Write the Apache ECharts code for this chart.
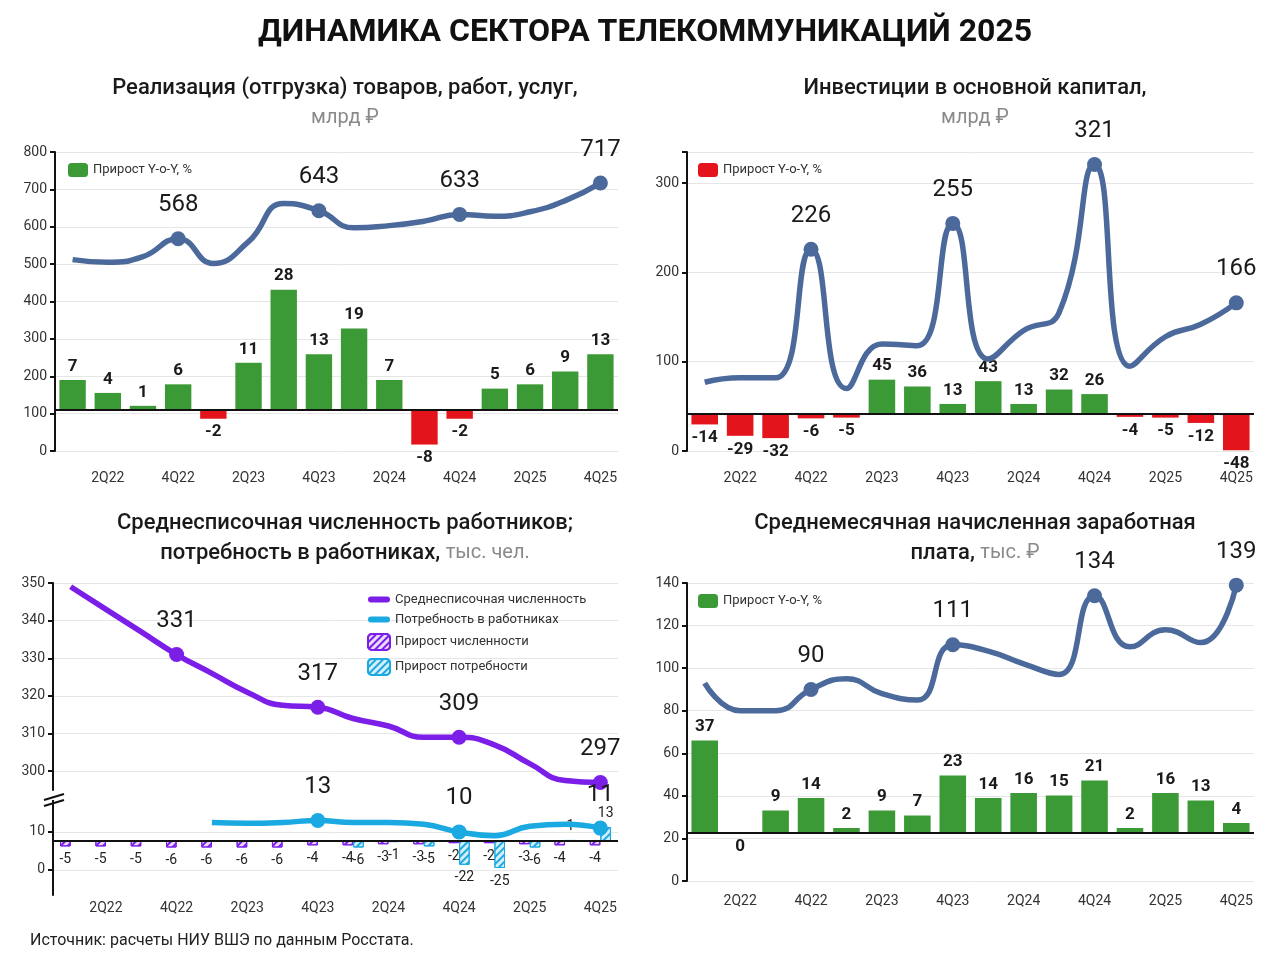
<!DOCTYPE html>
<html lang="ru">
<head>
<meta charset="UTF-8">
<title>Динамика сектора телекоммуникаций 2025</title>
<script src="https://cdn.jsdelivr.net/npm/echarts@6/dist/echarts.min.js"></script>
<style>
  html, body { margin: 0; padding: 0; background: #fff; }
  #chart { width: 1280px; height: 960px; }
</style>
</head>
<body>
<div id="chart"></div>
<script>
// данные
var cats = ['1Q22','2Q22','3Q22','4Q22','1Q23','2Q23','3Q23','4Q23','1Q24','2Q24','3Q24','4Q24','1Q25','2Q25','3Q25','4Q25'];
var marked = [3, 7, 11, 15];

var salesVal = [512, 505, 520, 568, 502, 560, 662, 643, 597, 603, 615, 633, 628, 640, 670, 717];
var salesYoY = [7, 4, 1, 6, -2, 11, 28, 13, 19, 7, -8, -2, 5, 6, 9, 13];

var investVal = [77, 82, 82, 226, 70, 120, 118, 255, 103, 135, 155, 321, 95, 128, 142, 166];
var investYoY = [-14, -29, -32, -6, -5, 45, 36, 13, 43, 13, 32, 26, -4, -5, -12, -48];

var staffVal = [349, 343, 337, 331, 326, 321, 317.5, 317, 314, 312, 309, 309, 307, 302, 297.5, 297];
var needVal = [null, null, null, null, 12.5, 12.3, 12.5, 13, 12.5, 12.5, 12, 10, 9, 11.5, 12, 11];
var staffYoY = [-5, -5, -5, -6, -6, -6, -6, -4, -4, -3, -3, -2, -2, -3, -4, -4];
var needYoY = [null, null, null, null, null, null, null, null, -6, -1, -5, -22, -25, -6, 1, 13];

var wageVal = [93, 80, 80, 90, 95, 88, 85, 111, 108, 102, 97, 134, 110, 118, 112, 139];
var wageYoY = [37, 0, 9, 14, 2, 9, 7, 23, 14, 16, 15, 21, 2, 16, 13, 4];

var GREEN = '#3c9a36', RED = '#e3141b', BLUE = '#4b6a9b', PURPLE = '#7a1ee8', CYAN = '#1ba9e1';
var FONT = 'Roboto';
var LINE_ICON = 'path://M3,0h16a3,3 0 0 1 0,6h-16a3,3 0 0 1 0,-6z';

var chart = echarts.init(document.getElementById('chart'));

function signBars(arr) {
    return arr.map(function (v) {
        return { value: v, itemStyle: { color: v < 0 ? RED : GREEN },
                 label: { position: v <= 0 ? 'bottom' : 'top' } };
    });
}
function smallBars(arr) {
    return arr.map(function (v) {
        return v === null ? null : { value: v, label: { position: v < 0 ? 'bottom' : 'top' } };
    });
}
function lineSeries(data, color, xi, yi, name) {
    return {
        name: name, type: 'line', data: data, xAxisIndex: xi, yAxisIndex: yi, smooth: 0.5,
        lineStyle: { color: color, width: 5.5 }, itemStyle: { color: color },
        symbol: 'circle',
        symbolSize: function (v, p) { return marked.indexOf(p.dataIndex) >= 0 ? 15 : 0; },
        label: {
            show: true, position: 'top', distance: 14, fontSize: 24, color: '#1a1a1a', fontFamily: FONT,
            formatter: function (p) { return marked.indexOf(p.dataIndex) >= 0 ? String(Math.round(p.value)) : ''; }
        },
        z: 5
    };
}
function barSeries(data, name, xi, yi) {
    return {
        name: name, type: 'bar', data: signBars(data), xAxisIndex: xi, yAxisIndex: yi,
        barWidth: '75%', color: name === 'inv' ? RED : GREEN,
        label: { show: true, fontSize: 17, fontWeight: 'bold', color: '#1a1a1a', fontFamily: FONT },
        markLine: { silent: true, symbol: 'none', label: { show: false },
                    lineStyle: { color: '#111', width: 2, type: 'solid' }, data: [{ yAxis: 0 }] },
        z: 3
    };
}
function labelX(grid, margin) {
    return {
        type: 'category', gridIndex: grid, data: cats, position: 'bottom',
        axisLine: { show: false }, axisTick: { show: false },
        axisLabel: { interval: function (i) { return i % 2 === 1; }, fontSize: 14, color: '#333', margin: margin, fontFamily: FONT }
    };
}
function hiddenX(grid) {
    return { type: 'category', gridIndex: grid, data: cats, show: false };
}
var valueY = function (grid, min, max, interval) {
    return {
        type: 'value', gridIndex: grid, min: min, max: max, interval: interval,
        axisLine: { show: true, lineStyle: { color: '#111', width: 2 } },
        axisTick: { show: true, length: 5, lineStyle: { color: '#111', width: 2 } },
        axisLabel: { fontSize: 14, color: '#333', fontFamily: FONT,
                     formatter: function (v) { return v % interval === 0 ? String(v) : ''; } },
        splitLine: { lineStyle: { color: '#e6e6e6' } }
    };
};
var barY = function (grid, min, max) {
    return { type: 'value', gridIndex: grid, min: min, max: max, show: false, splitLine: { show: false } };
};

var titleStyle = {
    rich: {
        t: { fontSize: 22, color: '#1a1a1a', fontFamily: FONT, lineHeight: 30, fontWeight: 500 },
        u: { fontSize: 20, color: '#8a8a8a', fontFamily: FONT, lineHeight: 30, fontWeight: 'normal' }
    }
};
function panelTitle(x, y, text) {
    return { text: text, left: x, top: y, textAlign: 'center', textStyle: titleStyle };
}

var option = {
    backgroundColor: '#fff',
    animation: false,
    title: [
        { text: 'ДИНАМИКА СЕКТОРА ТЕЛЕКОММУНИКАЦИЙ 2025', left: 640, top: 12, textAlign: 'center',
          textStyle: { fontSize: 32, fontWeight: 'bold', color: '#111', fontFamily: FONT } },
        panelTitle(340, 68, '{t|Реализация (отгрузка) товаров, работ, услуг,}\n{u|млрд ₽}'),
        panelTitle(970, 68, '{t|Инвестиции в основной капитал,}\n{u|млрд ₽}'),
        panelTitle(340, 503, '{t|Среднесписочная численность работников;}\n{t|потребность в работниках, }{u|тыс. чел.}'),
        panelTitle(970, 503, '{t|Среднемесячная начисленная заработная}\n{t|плата, }{u|тыс. ₽}'),
        { text: 'Источник: расчеты НИУ ВШЭ по данным Росстата.', left: 25, top: 928,
          textStyle: { fontSize: 16, fontWeight: 'normal', color: '#222', fontFamily: FONT } }
    ],
    legend: [
        { data: [{ name: 'sales' }], left: 63, top: 158, itemWidth: 20, itemHeight: 14,
          formatter: function () { return 'Прирост Y-o-Y, %'; }, textStyle: { fontSize: 13, color: '#333', fontFamily: FONT } },
        { data: [{ name: 'inv' }], left: 693, top: 158, itemWidth: 20, itemHeight: 14,
          formatter: function () { return 'Прирост Y-o-Y, %'; }, textStyle: { fontSize: 13, color: '#333', fontFamily: FONT } },
        { data: [{ name: 'wage' }], left: 693, top: 589, itemWidth: 20, itemHeight: 14,
          formatter: function () { return 'Прирост Y-o-Y, %'; }, textStyle: { fontSize: 13, color: '#333', fontFamily: FONT } },
        { data: [{ name: 'Среднесписочная численность', icon: LINE_ICON },
                 { name: 'Потребность в работниках', icon: LINE_ICON },
                 'Прирост численности', 'Прирост потребности'],
          orient: 'vertical', left: 362, top: 588, itemGap: 7, itemWidth: 22, itemHeight: 16,
          textStyle: { fontSize: 13, color: '#333', fontFamily: FONT } }
    ],
    grid: [
        { left: 55, right: 662, top: 152, bottom: 509 },
        { left: 687, right: 26, top: 152, bottom: 509 },
        { left: 53, right: 662, top: 583, bottom: 170 },
        { left: 53, right: 662, top: 800, bottom: 65 },
        { left: 687, right: 26, top: 583, bottom: 79 }
    ],
    xAxis: [
        labelX(0, 20), hiddenX(1),
        labelX(1, 20), hiddenX(1),
        hiddenX(2),
        labelX(3, 6), hiddenX(3),
        labelX(4, 13), hiddenX(4)
    ],
    yAxis: [
        valueY(0, 0, 800, 100), barY(0, -9.5, 60),
        valueY(1, 0, 335, 100), barY(1, -49, 345),
        {
            type: 'value', gridIndex: 2, min: 295, max: 350,
            axisLine: { show: true, lineStyle: { color: '#111', width: 2 } },
            axisTick: { show: true, length: 5, customValues: [300, 310, 320, 330, 340, 350], lineStyle: { color: '#111', width: 2 } },
            axisLabel: { fontSize: 14, color: '#333', fontFamily: FONT, customValues: [300, 310, 320, 330, 340, 350] },
            splitLine: { lineStyle: { color: '#e6e6e6' } }
        },
        {
            type: 'value', gridIndex: 3, min: -6.6, max: 18.4,
            axisLine: { show: true, lineStyle: { color: '#111', width: 2 } },
            axisTick: { show: true, length: 5, customValues: [0, 10], lineStyle: { color: '#111', width: 2 } },
            axisLabel: { fontSize: 14, color: '#333', fontFamily: FONT, customValues: [0, 10] },
            splitLine: { lineStyle: { color: '#e6e6e6' } }
        },
        barY(3, -50, 38),
        valueY(4, 0, 140, 20), barY(4, -19.2, 100)
    ],
    graphic: [
        { type: 'line', shape: { x1: 44, y1: 800, x2: 64, y2: 794 }, style: { stroke: '#111', lineWidth: 2 }, z: 100 },
        { type: 'line', shape: { x1: 44, y1: 806, x2: 64, y2: 800 }, style: { stroke: '#111', lineWidth: 2 }, z: 100 },
        { type: 'rect', shape: { x: 40, y: 797, width: 26, height: 3 }, style: { fill: '#fff' }, z: 99 }
    ],
    series: [
        barSeries(salesYoY, 'sales', 0, 1),
        lineSeries(salesVal, BLUE, 0, 0, 'salesLine'),
        barSeries(investYoY, 'inv', 2, 3),
        lineSeries(investVal, BLUE, 2, 2, 'invLine'),
        lineSeries(staffVal, PURPLE, 4, 4, 'Среднесписочная численность'),
        lineSeries(needVal, CYAN, 5, 5, 'Потребность в работниках'),
        {
            name: 'Прирост численности', type: 'bar', data: smallBars(staffYoY), xAxisIndex: 5, yAxisIndex: 6,
            barWidth: '30%', barGap: '0%',
            itemStyle: { color: '#e9dcfb', borderColor: PURPLE, borderWidth: 1,
                         decal: { symbol: 'rect', dashArrayX: [1, 0], dashArrayY: [2, 3], rotation: -Math.PI / 4, color: PURPLE, symbolSize: 1 } },
            label: { show: true, fontSize: 14, color: '#222', fontFamily: FONT, distance: 6 },
            markLine: { silent: true, symbol: 'none', label: { show: false },
                        lineStyle: { color: '#111', width: 2, type: 'solid' }, data: [{ yAxis: 0 }] }
        },
        {
            name: 'Прирост потребности', type: 'bar', data: smallBars(needYoY), xAxisIndex: 5, yAxisIndex: 6,
            barWidth: '30%', barGap: '0%',
            itemStyle: { color: '#d4eefa', borderColor: CYAN, borderWidth: 1,
                         decal: { symbol: 'rect', dashArrayX: [1, 0], dashArrayY: [2, 3], rotation: -Math.PI / 4, color: CYAN, symbolSize: 1 } },
            label: { show: true, fontSize: 14, color: '#222', fontFamily: FONT, distance: 6 }
        },
        barSeries(wageYoY, 'wage', 7, 8),
        lineSeries(wageVal, BLUE, 7, 7, 'wageLine')
    ]
};
chart.setOption(option);
window.onresize = function () { chart.resize(); };
</script>
</body>
</html>
